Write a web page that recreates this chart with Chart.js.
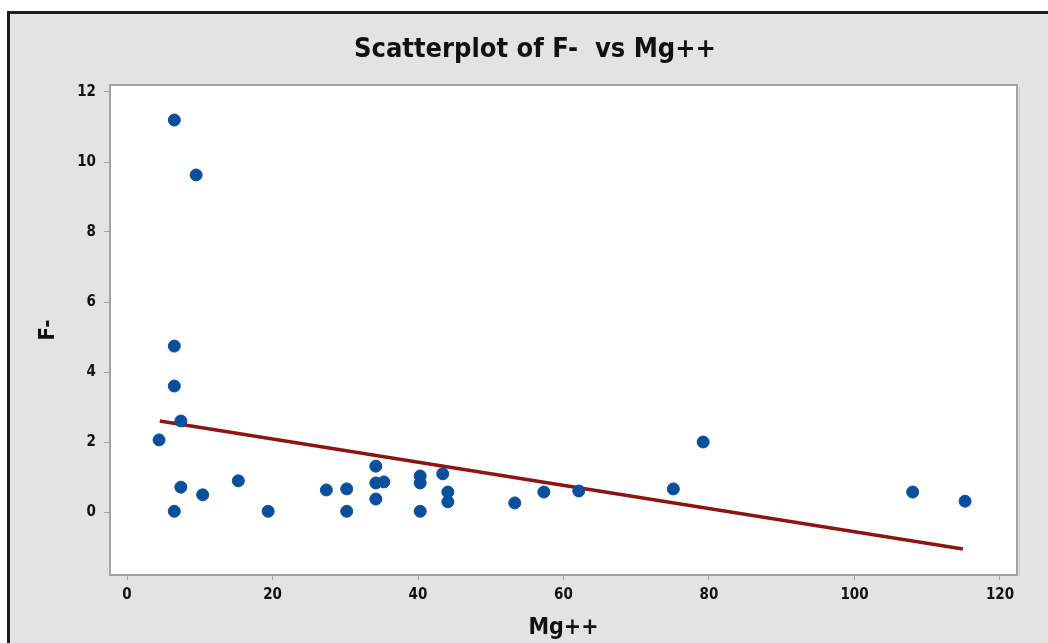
<!DOCTYPE html>
<html>
<head>
<meta charset="utf-8">
<script src="https://cdn.jsdelivr.net/npm/chart.js@4.4.1/dist/chart.umd.min.js"></script>
<style>
  html, body { margin: 0; padding: 0; background: #ffffff; overflow: hidden; }
  #frame {
    position: absolute; left: 7px; top: 11px; width: 1100px; height: 700px;
    background: #e3e3e3; border-left: 3px solid #1e1e1e; border-top: 3px solid #1e1e1e;
  }
  #wrap { position: absolute; left: 0; top: 0; width: 1048px; height: 643px; }
</style>
</head>
<body>
<div id="frame"></div>
<div id="wrap"><canvas id="scatterChart" width="1048" height="643"></canvas></div>
<script>
// Mg++ vs F- readings
const mgValues = [6.5, 9.5, 6.5, 6.5, 7.4, 4.4, 7.4, 6.5, 10.4, 15.3, 19.4, 27.4, 30.2, 30.2,
    34.2, 34.2, 35.3, 34.2, 40.3, 40.3, 40.3, 43.4, 44.1, 44.1, 53.3, 57.3, 62.1, 75.1, 79.2, 108.0, 115.2];
const fValues = [11.2, 9.63, 4.74, 3.6, 2.6, 2.06, 0.71, 0.02, 0.49, 0.89, 0.02, 0.63, 0.66, 0.02,
    1.31, 0.83, 0.86, 0.37, 1.03, 0.83, 0.02, 1.09, 0.57, 0.29, 0.26, 0.57, 0.6, 0.66, 2.0, 0.57, 0.31];

// fitted line end points
const fitX = [4.5, 114.9];
const fitY = [2.6, -1.06];

const xTicks = [0, 20, 40, 60, 80, 100, 120];
const yTicks = [0, 2, 4, 6, 8, 10, 12];

const chartTitle = 'Scatterplot of F-  vs Mg++';

const fontFamily = '"Liberation Sans Narrow", "DejaVu Sans Condensed", Arial, sans-serif';
const frameGray = '#a3a3a3';

const plotFrame = {
    id: 'plotFrame',
    beforeDraw(chart) {
        const a = chart.chartArea;
        const ctx = chart.ctx;
        ctx.save();
        ctx.fillStyle = '#ffffff';
        ctx.fillRect(a.left, a.top, a.right - a.left, a.bottom - a.top);
        // title, centred like the original (a bit right of the canvas centre)
        ctx.fillStyle = '#111111';
        ctx.font = 'bold 27px ' + fontFamily;
        ctx.textAlign = 'center';
        ctx.textBaseline = 'middle';
        ctx.fillText(chartTitle, 535, 50);
        ctx.restore();
    },
    beforeDatasetsDraw(chart) {
        const a = chart.chartArea;
        const ctx = chart.ctx;
        ctx.save();
        ctx.strokeStyle = frameGray;
        ctx.lineWidth = 2;
        ctx.strokeRect(a.left, a.top, a.right - a.left, a.bottom - a.top);
        // slight shadow on right edge
        ctx.strokeStyle = '#c4c4c4';
        ctx.lineWidth = 1;
        ctx.beginPath();
        ctx.moveTo(a.right + 2.5, a.top + 2);
        ctx.lineTo(a.right + 2.5, a.bottom + 1);
        ctx.stroke();
        ctx.restore();
    }
};

const ctx = document.getElementById('scatterChart');

new Chart(ctx, {
    data: {
        datasets: [{
            type: 'scatter',
            label: 'F-',
            data: mgValues.map((x, i) => ({ x: x, y: fValues[i] })),
            backgroundColor: '#0a4f9e',
            borderColor: '#0a4f9e',
            borderWidth: 1,
            pointRadius: 6,
            pointStyle: 'circle'
        }, {
            type: 'line',
            label: 'Fit',
            data: fitX.map((x, i) => ({ x: x, y: fitY[i] })),
            borderColor: '#8e1414',
            borderWidth: 3.5,
            pointRadius: 0,
            fill: false
        }]
    },
    options: {
        responsive: false,
        animation: false,
        events: [],
        layout: { padding: { left: 0, right: 31, top: 85, bottom: 0 } },
        plugins: {
            legend: { display: false },
            tooltip: { enabled: false },
            title: { display: false }
        },
        scales: {
            x: {
                type: 'linear',
                min: -2.34,
                max: 122.34,
                afterBuildTicks: (scale) => { scale.ticks = xTicks.map(v => ({ value: v })); },
                afterFit: (scale) => { scale.height = 68; scale.paddingLeft = 0; scale.paddingRight = 0; },
                grid: { drawOnChartArea: false, drawTicks: true, tickLength: 5, color: frameGray, lineWidth: 1 },
                border: { display: false },
                ticks: { color: '#111111', padding: 6, maxRotation: 0, font: { family: fontFamily, size: 15, weight: 'bold' } },
                title: {
                    display: true,
                    text: 'Mg++',
                    color: '#111111',
                    font: { family: fontFamily, size: 23, weight: 'bold', lineHeight: 1.1 },
                    padding: { top: 0, bottom: 2 }
                }
            },
            y: {
                type: 'linear',
                min: -1.8,
                max: 12.2,
                afterBuildTicks: (scale) => { scale.ticks = yTicks.map(v => ({ value: v })); },
                afterFit: (scale) => { scale.width = 110; scale.paddingTop = 0; scale.paddingBottom = 0; },
                grid: { drawOnChartArea: false, drawTicks: true, tickLength: 6, color: frameGray, lineWidth: 1 },
                border: { display: false },
                ticks: { color: '#111111', padding: 8, font: { family: fontFamily, size: 15, weight: 'bold' } },
                title: {
                    display: true,
                    text: 'F-',
                    color: '#111111',
                    font: { family: fontFamily, size: 22, weight: 'bold', lineHeight: 1.1 },
                    padding: { top: 36, bottom: 0 }
                }
            }
        }
    },
    plugins: [plotFrame]
});
</script>
</body>
</html>
